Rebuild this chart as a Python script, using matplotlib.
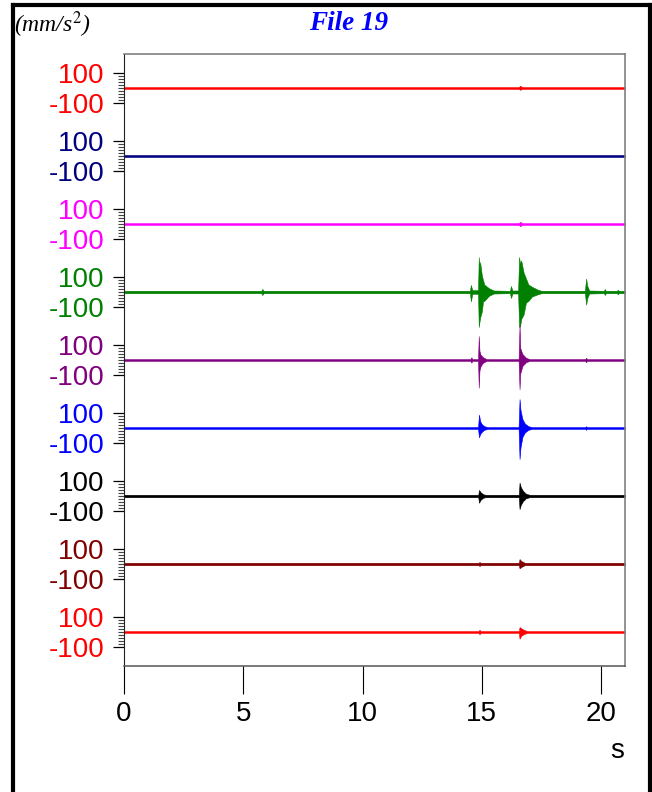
import numpy as np
import matplotlib.pyplot as plt
from matplotlib.lines import Line2D
from matplotlib.ticker import FixedLocator

W, H = 652, 792

# channel colours, top to bottom
colors = ['#ff0000', '#000080', '#ff00ff', '#008000', '#800080',
          '#0000ff', '#000000', '#800000', '#ff0000']

# baseline noise half-width (mm/s^2) per channel
base = [6, 6, 6, 8, 6, 6, 8, 8, 6]

# burst envelopes per channel: (time s, upper, lower)
bursts = [
    [(16.55, 6, -6), (16.6, 15, -12), (16.7, 6, -6)],
    [],
    [(16.55, 6, -6), (16.6, 15, -15), (16.7, 6, -6)],
    [(5.75, 8, -8), (5.8, 20, -20), (5.85, 8, -8),
     (14.50, 8, -8), (14.54, 47, -62), (14.60, 12, -12),
     (14.84, 12, -12), (14.87, 233, -233), (14.90, 150, -200), (14.93, 200, -170),
     (15.0, 110, -130), (15.05, 80, -60), (15.1, 50, -60), (15.3, 25, -25), (15.5, 10, -10),
     (16.18, 8, -8), (16.22, 40, -40), (16.28, 10, -10),
     (16.52, 10, -10), (16.56, 233, -233), (16.60, 190, -230), (16.65, 210, -180),
     (16.75, 130, -150), (16.85, 90, -70), (16.95, 50, -60), (17.1, 35, -30),
     (17.35, 15, -15), (17.5, 8, -8),
     (19.32, 8, -8), (19.37, 89, -85), (19.42, 40, -40), (19.5, 10, -10),
     (20.12, 8, -8), (20.15, 20, -20), (20.2, 8, -8),
     (20.66, 8, -8), (20.7, 15, -15), (20.74, 8, -8)],
    [(14.52, 6, -6), (14.56, 18, -18), (14.6, 6, -6),
     (14.84, 6, -6), (14.87, 160, -185), (14.90, 60, -70), (14.95, 35, -40),
     (15.05, 18, -18), (15.2, 6, -6),
     (16.54, 6, -6), (16.58, 235, -195), (16.61, 80, -90), (16.7, 40, -40),
     (16.85, 15, -15), (17.0, 6, -6),
     (19.33, 6, -6), (19.37, 15, -15), (19.41, 6, -6)],
    [(14.84, 6, -6), (14.88, 89, -62), (14.93, 45, -40), (15.0, 25, -25),
     (15.1, 12, -12), (15.25, 6, -6),
     (16.54, 6, -6), (16.58, 193, -207), (16.62, 120, -130), (16.7, 60, -60),
     (16.8, 30, -30), (16.95, 12, -12), (17.1, 6, -6),
     (19.33, 6, -6), (19.37, 12, -12), (19.41, 6, -6)],
    [(14.85, 8, -8), (14.88, 40, -45), (14.95, 25, -25), (15.05, 12, -12), (15.15, 8, -8),
     (16.55, 8, -8), (16.58, 89, -87), (16.63, 60, -60), (16.72, 35, -35),
     (16.85, 15, -15), (17.0, 8, -8)],
    [(14.86, 8, -8), (14.9, 13, -13), (14.95, 8, -8),
     (16.55, 8, -8), (16.58, 33, -29), (16.65, 20, -20), (16.8, 8, -8)],
    [(14.86, 6, -6), (14.9, 15, -15), (14.95, 6, -6),
     (16.55, 6, -6), (16.58, 33, -45), (16.65, 25, -25), (16.75, 15, -15), (16.9, 6, -6)],
]

t_end = 21.0
band = 454.0          # vertical space per channel
n = len(colors)

fig = plt.figure(figsize=(W / 100, H / 100), dpi=100)
ax = fig.add_axes([124 / W, 1 - 666 / H, (625 - 124) / W, (666 - 54) / H])

major, minor, lab_cols, labels = [], [], [], []
for i in range(n):
    off = (n - 1 - i) * band + band / 2
    t = [0.0] + [b[0] for b in bursts[i]] + [t_end]
    hi = [base[i]] + [b[1] for b in bursts[i]] + [base[i]]
    lo = [-base[i]] + [b[2] for b in bursts[i]] + [-base[i]]
    ax.fill_between(t, off + np.array(lo), off + np.array(hi),
                    color=colors[i], lw=0.4, edgecolor=colors[i])
    major += [off - 100, off + 100]
    labels += ['-100', '100']
    lab_cols += [colors[i], colors[i]]
    minor += [off + v for v in range(-80, 100, 20)]

ax.set_xlim(0, t_end)
ax.set_ylim(0, n * band)
ax.set_xticks([0, 5, 10, 15, 20])
ax.yaxis.set_major_locator(FixedLocator(major))
ax.yaxis.set_minor_locator(FixedLocator(minor))
ax.set_yticklabels(labels)
for lab, c in zip(ax.get_yticklabels(), lab_cols):
    lab.set_color(c)

for lab in ax.get_xticklabels() + ax.get_yticklabels():
    lab.set_fontfamily('Liberation Sans')
    lab.set_fontsize(20)

ax.tick_params(axis='x', direction='out', length=20, width=0.8, pad=5)
ax.tick_params(axis='y', which='major', direction='out', length=8, width=0.9, pad=6)
ax.tick_params(axis='y', which='minor', direction='out', length=4, width=0.8, color='#444444')

ax.spines['top'].set_color('#808080')
ax.spines['right'].set_color('#808080')
ax.spines['top'].set_linewidth(1.2)
ax.spines['right'].set_linewidth(1.2)
ax.spines['left'].set_color('#222222')
ax.spines['left'].set_linewidth(0.8)
ax.spines['bottom'].set_color('#555555')
ax.spines['bottom'].set_linewidth(1.1)

fig.text(617 / W, 1 - 751 / H, 's', ha='center', va='center',
         family='Liberation Sans', fontsize=20)
fig.text(349 / W, 1 - 23 / H, 'File 19', ha='center', va='center', color='#0000ff',
         family='Liberation Serif', style='italic', weight='bold', fontsize=19.5)
fig.text(14 / W, 1 - 25 / H, r'(mm/s$^{\mathit{2}}$)', ha='left', va='center',
         family='Liberation Serif', style='italic', fontsize=17,
         math_fontfamily='stix')

# outer frame
fig.add_artist(Line2D([12.5 / W, 12.5 / W], [-0.05, 1 - 5 / H], color='black', lw=3, transform=fig.transFigure))
fig.add_artist(Line2D([12.5 / W, 650 / W], [1 - 5 / H, 1 - 5 / H], color='black', lw=3, transform=fig.transFigure))
fig.add_artist(Line2D([650 / W, 650 / W], [-0.05, 1 - 5 / H], color='black', lw=3, transform=fig.transFigure))

fig.savefig('out.png', dpi=100)
